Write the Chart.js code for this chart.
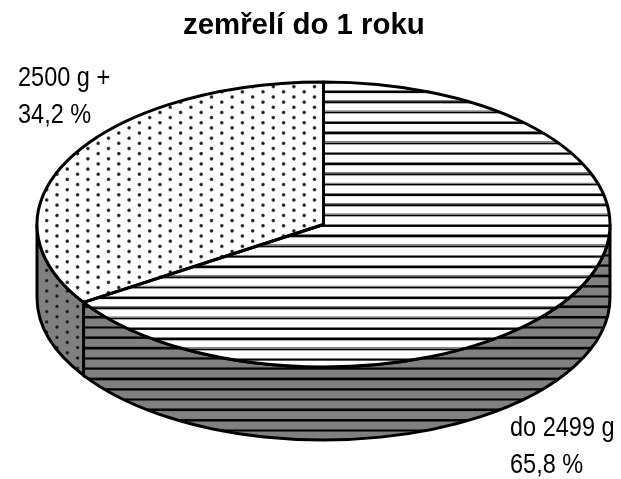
<!DOCTYPE html>
<html lang="cs">
<head>
<meta charset="UTF-8">
<title>zemřelí do 1 roku</title>
<script src="https://cdn.jsdelivr.net/npm/chart.js"></script>
<style>
  html, body { margin: 0; padding: 0; background: #fff; }
  #wrap { position: relative; width: 621px; height: 479px; }
</style>
</head>
<body>
<div id="wrap"><canvas id="pie" width="621" height="479"></canvas></div>
<script>
var chartTitle = 'zemřelí do 1 roku';
var categories = ['do 2499 g', '2500 g +'];
var shares = [65.8, 34.2];
var shareLabels = ['65,8 %', '34,2 %'];

// where the squashed pie sits on the page
var pieX = 323.5, pieY = 224.5, pieRx = 286.5, pieRy = 142.5, wallDepth = 73;
var edgeWidth = 3;
var labelSpots = [[510, 436], [18, 86]];

var TILE = 40;
var PERIOD = 10.3;

function stripeTile(back) {
    var c = document.createElement('canvas');
    c.width = TILE; c.height = TILE;
    var g = c.getContext('2d');
    g.fillStyle = back;
    g.fillRect(0, 0, TILE, TILE);
    var white = back === '#fff';
    g.fillStyle = white ? '#808080' : '#3c3c3c';
    g.fillRect(0, white ? 1 : 3, TILE, 6);
    g.fillStyle = '#000';
    g.fillRect(0, 6, TILE, 6);
    g.fillStyle = white ? '#aaa' : '#3c3c3c';
    g.fillRect(0, 12, TILE, 3);
    return c;
}

function dotTile(back) {
    var c = document.createElement('canvas');
    c.width = TILE * 2; c.height = TILE;
    var g = c.getContext('2d');
    g.fillStyle = back;
    g.fillRect(0, 0, TILE * 2, TILE);
    [[10, 10], [50, 30]].forEach(function (p) {
        var halo = g.createRadialGradient(p[0], p[1], 2, p[0], p[1], 9);
        halo.addColorStop(0, 'rgba(20,20,20,1)');
        halo.addColorStop(0.45, 'rgba(40,40,40,0.85)');
        halo.addColorStop(1, 'rgba(80,80,80,0)');
        g.fillStyle = halo;
        g.beginPath();
        g.arc(p[0], p[1], 9, 0, Math.PI * 2);
        g.fill();
    });
    return c;
}

var ctx = document.getElementById('pie').getContext('2d');
var topFills = [ctx.createPattern(stripeTile('#fff'), 'repeat'), ctx.createPattern(dotTile('#fff'), 'repeat')];
var wallFills = [ctx.createPattern(stripeTile('#808080'), 'repeat'), ctx.createPattern(dotTile('#808080'), 'repeat')];
var tileScale = PERIOD / TILE;
var topPhase = [[0, 89.6], [270.7, 84.1]];
var wallPhase = [[0, 5.85], [2.9, 0]];

function pieTransform(el) {
    return new DOMMatrix()
        .translate(pieX, pieY)
        .scale(pieRx / el.outerRadius, pieRy / el.outerRadius)
        .translate(-el.x, -el.y);
}

// text squeezed sideways to fit the reference's narrow lettering
function wideText(g, text, x, y, stretch) {
    g.save();
    g.translate(x, y);
    g.scale(stretch, 1);
    g.fillText(text, 0, 0);
    g.restore();
}

var pie3d = {
    id: 'pie3d',
    beforeDatasetDraw: function (chart, args) {
        var arcs = args.meta.data;
        var g = chart.ctx;

        // side wall: only the part of each slice facing the viewer
        arcs.forEach(function (el, i) {
            var a0 = Math.max(el.startAngle, 0), a1 = Math.min(el.endAngle, Math.PI);
            if (a1 <= a0) return;
            wallFills[i].setTransform(new DOMMatrix().translate(wallPhase[i][0], wallPhase[i][1]).scale(tileScale));
            g.save();
            g.beginPath();
            g.ellipse(pieX, pieY, pieRx, pieRy, 0, a0, a1);
            g.ellipse(pieX, pieY + wallDepth, pieRx, pieRy, 0, a1, a0, true);
            g.closePath();
            g.fillStyle = wallFills[i];
            g.fill();
            g.lineWidth = edgeWidth;
            g.strokeStyle = '#000';
            g.stroke();
            g.restore();
        });

        // the library draws the slices through the squash
        var m = pieTransform(arcs[0]);
        arcs.forEach(function (el, i) {
            topFills[i].setTransform(m.inverse().translate(topPhase[i][0], topPhase[i][1]).scale(tileScale));
        });
        g.save();
        g.transform(m.a, m.b, m.c, m.d, m.e, m.f);
    },
    afterDatasetDraw: function (chart, args) {
        var g = chart.ctx;
        g.restore();
        args.meta.data.forEach(function (el) {
            g.beginPath();
            g.moveTo(pieX, pieY);
            g.ellipse(pieX, pieY, pieRx, pieRy, 0, el.startAngle, el.endAngle);
            g.closePath();
            g.lineWidth = edgeWidth;
            g.lineJoin = 'round';
            g.strokeStyle = '#000';
            g.stroke();
        });
        g.save();
        g.fillStyle = '#000';
        g.textBaseline = 'alphabetic';
        g.font = '28px "Liberation Sans", Arial, sans-serif';
        categories.forEach(function (name, i) {
            wideText(g, name, labelSpots[i][0], labelSpots[i][1], 0.84);
            wideText(g, shareLabels[i], labelSpots[i][0], labelSpots[i][1] + 36.5, 0.84);
        });
        g.font = 'bold 29.4px "Liberation Sans", Arial, sans-serif';
        wideText(g, chartTitle, 183, 34, 1);
        g.restore();
    }
};

new Chart(ctx, {
    type: 'pie',
    data: {
        labels: categories,
        datasets: [{
            data: shares,
            backgroundColor: topFills,
            borderWidth: 0
        }]
    },
    options: {
        responsive: false,
        animation: false,
        events: [],
        plugins: {
            legend: { display: false },
            tooltip: { enabled: false }
        }
    },
    plugins: [pie3d]
});
</script>
</body>
</html>
